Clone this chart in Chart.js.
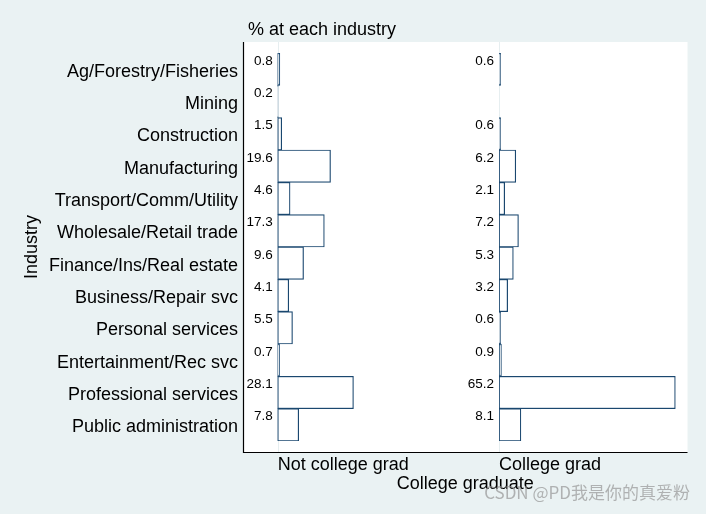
<!DOCTYPE html>
<html>
<head>
<meta charset="utf-8">
<script src="https://cdn.jsdelivr.net/npm/chart.js@4.4.1/dist/chart.umd.min.js"></script>
<style>
  html, body { margin: 0; padding: 0; background: #eaf2f3; }
  #wrap { width: 706px; height: 514px; }
</style>
</head>
<body>
<div id="wrap"><canvas id="chart" width="706" height="514"></canvas></div>
<script>
const industries = [
  'Ag/Forestry/Fisheries', 'Mining', 'Construction', 'Manufacturing',
  'Transport/Comm/Utility', 'Wholesale/Retail trade', 'Finance/Ins/Real estate',
  'Business/Repair svc', 'Personal services', 'Entertainment/Rec svc',
  'Professional services', 'Public administration'
];
const notGrad = [0.8, 0.2, 1.5, 19.6, 4.6, 17.3, 9.6, 4.1, 5.5, 0.7, 28.1, 7.8];
const collegeGrad = [0.6, null, 0.6, 6.2, 2.1, 7.2, 5.3, 3.2, 0.6, 0.9, 65.2, 8.1];
const groupLabels = ['Not college grad', 'College grad'];

const FONT = "'Liberation Sans', Arial, sans-serif";
const NAVY = '#1a476f';
const BG = '#eaf2f3';
const PAD = 11;

const framePlugin = {
  id: 'frame',
  beforeDraw(chart) {
    const {ctx, chartArea} = chart;
    ctx.save();
    ctx.fillStyle = BG;
    ctx.fillRect(0, 0, chart.width, chart.height);
    ctx.fillStyle = '#ffffff';
    ctx.fillRect(chartArea.left, chartArea.top - PAD, chartArea.right - chartArea.left, chartArea.bottom - chartArea.top + 2 * PAD);
    // faint base lines of each panel
    ctx.strokeStyle = '#e6eef0';
    ctx.lineWidth = 1;
    ['x1', 'x2'].forEach(id => {
      const px = Math.round(chart.scales[id].getPixelForValue(0)) + 0.5;
      ctx.beginPath();
      ctx.moveTo(px, chartArea.top - PAD);
      ctx.lineTo(px, chartArea.bottom + PAD);
      ctx.stroke();
    });
    ctx.restore();
  },
  afterDatasetsDraw(chart) {
    const {ctx} = chart;
    ctx.save();
    ctx.font = '13.5px ' + FONT;
    ctx.fillStyle = '#000';
    ctx.textAlign = 'right';
    ctx.textBaseline = 'middle';
    chart.data.datasets.forEach((ds, i) => {
      const meta = chart.getDatasetMeta(i);
      meta.data.forEach((bar, j) => {
        const v = ds.data[j];
        if (v === null || v === undefined) return;
        const p = bar.getProps(['y', 'base', 'height'], true);
        ctx.fillText(v.toFixed(1), p.base - 5, p.y - p.height / 2 + 8);
      });
    });
    ctx.restore();
  },
  afterDraw(chart) {
    const {ctx, chartArea} = chart;
    const top = chartArea.top - PAD;
    const bottom = chartArea.bottom + PAD;
    ctx.save();
    ctx.strokeStyle = '#000';
    ctx.lineWidth = 1.2;
    ctx.beginPath();
    ctx.moveTo(chartArea.left + 0.5, top);
    ctx.lineTo(chartArea.left + 0.5, bottom + 0.5);
    ctx.lineTo(chartArea.right, bottom + 0.5);
    ctx.stroke();

    ctx.fillStyle = '#000';
    ctx.font = '18px ' + FONT;
    ctx.textBaseline = 'middle';
    ctx.textAlign = 'left';
    ctx.fillText('% at each industry', chartArea.left + 5, 30.5);
    ctx.fillText(groupLabels[0], chart.scales.x1.getPixelForValue(0), bottom + 13);
    ctx.fillText(groupLabels[1], chart.scales.x2.getPixelForValue(0), bottom + 13);
    ctx.textAlign = 'center';
    ctx.fillText('College graduate', (chartArea.left + chartArea.right) / 2, bottom + 32);

    ctx.font = "17px 'Noto Sans CJK SC', 'Liberation Sans', sans-serif";
    ctx.fillStyle = 'rgba(150,150,150,0.7)';
    ctx.textAlign = 'right';
    ctx.fillText('CSDN @PD我是你的真爱粉', 690, 493);
    ctx.restore();
  }
};

new Chart(document.getElementById('chart'), {
  type: 'bar',
  data: {
    labels: industries,
    datasets: [
      {
        label: groupLabels[0],
        data: notGrad,
        xAxisID: 'x1',
        backgroundColor: '#ffffff',
        borderColor: NAVY,
        borderWidth: 1.2,
        borderSkipped: false
      },
      {
        label: groupLabels[1],
        data: collegeGrad,
        xAxisID: 'x2',
        backgroundColor: '#ffffff',
        borderColor: NAVY,
        borderWidth: 1.2,
        borderSkipped: false
      }
    ]
  },
  options: {
    indexAxis: 'y',
    responsive: false,
    animation: false,
    grouped: false,
    barPercentage: 1,
    categoryPercentage: 1,
    layout: { padding: { top: 53, bottom: 73, right: 18.5, left: 0 } },
    plugins: {
      legend: { display: false },
      tooltip: { enabled: false }
    },
    scales: {
      y: {
        grid: { display: false, drawTicks: false },
        border: { display: false },
        ticks: { color: '#000', padding: 5, labelOffset: 2.5, font: { family: FONT, size: 18 } },
        title: {
          display: true,
          text: 'Industry',
          color: '#000',
          font: { family: FONT, size: 18 },
          padding: { top: 21, bottom: 0 }
        },
        afterFit(scale) { scale.width = 243; }
      },
      x1: {
        type: 'linear',
        position: 'bottom',
        stack: 'panels',
        stackWeight: 256,
        min: -12.85,
        max: 82.05,
        display: false
      },
      x2: {
        type: 'linear',
        position: 'bottom',
        stack: 'panels',
        stackWeight: 188.5,
        min: 0,
        max: 69.7,
        display: false
      }
    }
  },
  plugins: [framePlugin]
});
</script>
</body>
</html>
